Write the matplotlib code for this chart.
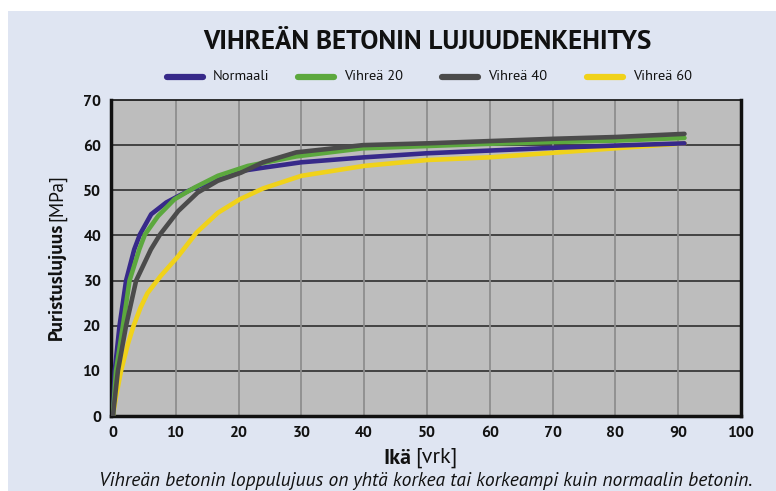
import matplotlib
matplotlib.use("Agg")
import matplotlib.pyplot as plt
from matplotlib.lines import Line2D
from matplotlib.patches import Rectangle
from matplotlib import font_manager

# data (age in days, strength in MPa)
days_normaali = [0, 0.3, 1.06, 2.1, 3.4, 4.3, 6.1, 8.5, 11.9, 15.1, 18.6, 23.9, 30, 40, 50, 60, 70, 80, 91]
mpa_normaali = [0, 10, 20, 30, 36.9, 40.2, 44.7, 47.3, 49.8, 51.7, 53.9, 55, 56.2, 57.3, 58.2, 58.8, 59.4, 59.9, 60.4]

days_v20 = [0, 0.5, 1.6, 2.65, 4.2, 5.1, 7.2, 9.8, 13, 16.7, 21.5, 29.2, 39.8, 50, 60, 70, 80, 91]
mpa_v20 = [0, 10, 20, 30, 36.9, 40.2, 44.3, 48, 50.6, 53.2, 55.4, 57.5, 59.3, 59.8, 60.3, 60.7, 61, 61.6]

days_v40 = [0, 0.8, 2.1, 3.7, 6.05, 7.5, 10.4, 13.5, 16.7, 20.4, 23.9, 29.2, 39.8, 50, 60, 70, 80, 91]
mpa_v40 = [0, 10, 20, 30, 36.9, 40.2, 45.4, 49.5, 52.1, 53.9, 56.2, 58.4, 60, 60.4, 60.9, 61.4, 61.8, 62.5]

days_v60 = [0, 0.5, 1.3, 2.4, 3.3, 4.4, 5.5, 7.6, 10.4, 13.3, 16.7, 20.2, 23.9, 30, 40, 50, 60, 70, 80, 91]
mpa_v60 = [0, 4.3, 10, 16, 20, 24, 27.2, 31, 35.4, 40.6, 45, 48, 50.4, 53.2, 55.4, 56.7, 57.3, 58.3, 59.3, 60.4]

labels = ["Normaali", "Vihreä 20", "Vihreä 40", "Vihreä 60"]
colors = ["#37298a", "#5ca83e", "#4b4b4b", "#f0d21a"]
x_ticks = [0, 10, 20, 30, 40, 50, 60, 70, 80, 90, 100]
y_ticks = [0, 10, 20, 30, 40, 50, 60, 70]

series = [(days_normaali, mpa_normaali), (days_v20, mpa_v20),
          (days_v40, mpa_v40), (days_v60, mpa_v60)]

avail = {f.name for f in font_manager.fontManager.ttflist}


def pick(*names):
    for n in names:
        if n in avail:
            return n
    return "DejaVu Sans"


body_font = pick("PT Sans", "Fira Sans", "Lato", "Open Sans")
title_font = body_font

W, H = 776, 491
fig = plt.figure(figsize=(W / 100, H / 100), dpi=100)
fig.patch.set_facecolor("white")
fig.patches.append(Rectangle((8 / W, 0), 1, 1 - 11 / H, transform=fig.transFigure,
                             facecolor="#dfe5f2", edgecolor="none", zorder=-10))
renderer = fig.canvas.get_renderer()


def fit(t, target):
    # scale the font so that the text spans the same width as in the picture
    for _ in range(2):
        bb = t.get_window_extent(renderer)
        size = bb.height if t.get_rotation() == 90 else bb.width
        t.set_fontsize(t.get_fontsize() * target / size)
    return t


ax = fig.add_axes([111 / W, (H - 416) / H, 630 / W, 316 / H])
ax.set_facecolor("#bdbdbd")

# draw order: yellow at the bottom, gray on top
for i in [3, 0, 1, 2]:
    d, v = series[i]
    ax.plot(d, v, color=colors[i], lw=3.3, solid_capstyle="round",
            solid_joinstyle="round", zorder=3)

ax.set_xlim(-0.3, 99.8)
ax.set_ylim(0, 70)
ax.set_xticks(x_ticks)
ax.set_yticks(y_ticks)
for y in y_ticks[1:-1]:
    ax.axhline(y, color="#3a3a3a", lw=1.3, zorder=1)
for x in x_ticks[1:-1]:
    ax.axvline(x, color="#8e8e8e", lw=1.3, zorder=1)

# tick label size from the width of "70" (18 px)
probe = fig.text(0, 0, "70", fontsize=12, fontweight="bold", family=body_font)
fit(probe, 18)
tick_size = probe.get_fontsize()
probe.remove()

ax.tick_params(length=0, pad=7)
for lab in ax.get_xticklabels() + ax.get_yticklabels():
    lab.set_fontfamily(body_font)
    lab.set_fontweight("bold")
    lab.set_fontsize(tick_size)
    lab.set_color("#111111")

ax.spines["left"].set_linewidth(2.5)
ax.spines["bottom"].set_linewidth(2.5)
ax.spines["right"].set_linewidth(2.5)
ax.spines["top"].set_linewidth(1.2)
for s in ax.spines.values():
    s.set_color("#111111")

# title
t = fig.text(427 / W, 1 - 42 / H, "VIHREÄN BETONIN LUJUUDENKEHITYS", ha="center", va="center",
             fontsize=20, fontweight="bold", fontstretch="normal", family=title_font,
             color="#111111")
fit(t, 448)

# legend drawn by hand
leg_x = [165, 296, 440, 585]
leg_y = 1 - 77 / H
leg_texts = []
for lx, c, lab in zip(leg_x, colors, labels):
    fig.add_artist(Line2D([(lx + 2) / W, (lx + 38) / W], [leg_y, leg_y], transform=fig.transFigure,
                          color=c, lw=4.5, solid_capstyle="round"))
    leg_texts.append(fig.text((lx + 48) / W, leg_y, lab, ha="left", va="center", fontsize=10.5,
                              family=body_font, color="#111111"))
fit(leg_texts[0], 57)
for lt in leg_texts[1:]:
    lt.set_fontsize(leg_texts[0].get_fontsize())

# axis labels (bold part + regular part)
xl1 = fig.text(411 / W, 1 - 458 / H, "Ikä", ha="right", va="center", fontsize=12,
               fontweight="bold", family=body_font, color="#111111")
fit(xl1, 28)
fig.text(415 / W, 1 - 458 / H, "[vrk]", ha="left", va="center", fontsize=xl1.get_fontsize(),
         family=body_font, color="#111111")
yl1 = fig.text(57 / W, 1 - 340 / H, "Puristuslujuus", ha="center", va="bottom", rotation=90,
               fontsize=12, fontweight="bold", family=body_font, color="#111111")
fit(yl1, 117)
fig.text(57 / W, 1 - 221 / H, "[MPa]", ha="center", va="bottom", rotation=90,
         fontsize=yl1.get_fontsize(), family=body_font, color="#111111")

cap = fig.text(426 / W, 1 - 481 / H,
               "Vihreän betonin loppulujuus on yhtä korkea tai korkeampi kuin normaalin betonin.",
               ha="center", va="center", fontsize=12, style="italic", family=body_font,
               color="#111111")
fit(cap, 650)

fig.savefig("out.png", dpi=100, facecolor=fig.get_facecolor())
